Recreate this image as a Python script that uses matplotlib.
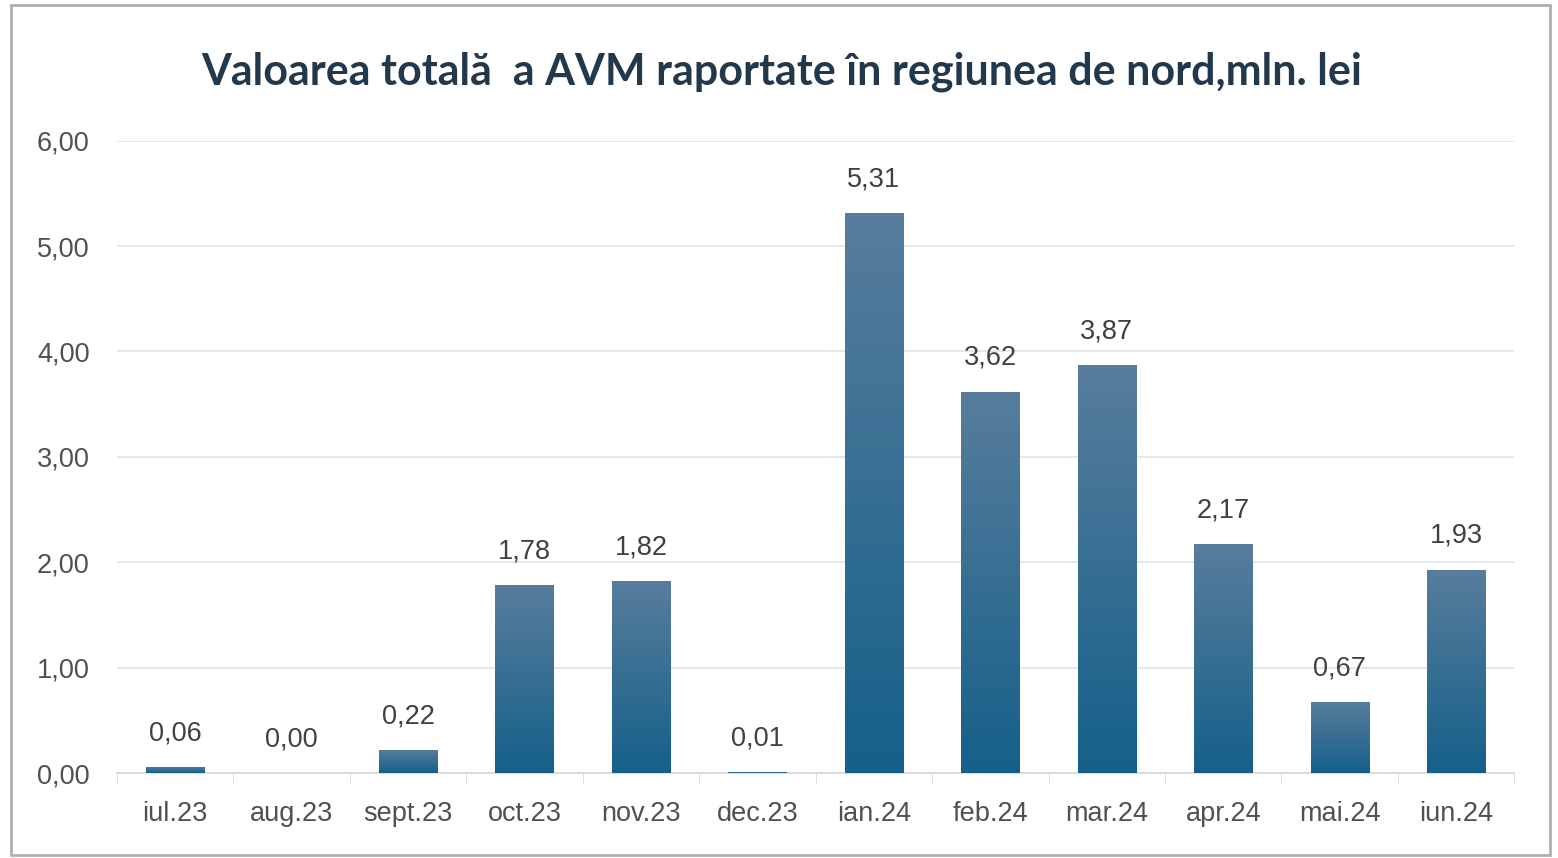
import matplotlib.pyplot as plt
import numpy as np
from matplotlib.patches import Rectangle
from matplotlib.colors import LinearSegmentedColormap

months = ["iul.23", "aug.23", "sept.23", "oct.23", "nov.23", "dec.23",
          "ian.24", "feb.24", "mar.24", "apr.24", "mai.24", "iun.24"]
values = [0.06, 0.00, 0.22, 1.78, 1.82, 0.01, 5.31, 3.62, 3.87, 2.17, 0.67, 1.93]
y_ticks = [0, 1, 2, 3, 4, 5, 6]

plt.rcParams['font.family'] = ['Liberation Sans', 'DejaVu Sans']

fig = plt.figure(figsize=(15.58, 8.58), dpi=100)
ax = fig.add_axes([0.075, 0.099, 0.897, 0.737])

# frame around the whole chart
fig.patches.append(Rectangle((0.007, 0.004), 0.988, 0.99, transform=fig.transFigure,
                             fill=False, edgecolor='#b0b0b0', linewidth=2))

x = np.arange(len(months))
bars = ax.bar(x, values, width=0.5, color='#1a6089', zorder=2)

# vertical gradient in each bar, lighter at top
cmap = LinearSegmentedColormap.from_list('bar', ['#15608a', '#587d9c'])
grad = np.linspace(0, 1, 256).reshape(-1, 1)
for b in bars:
    h = b.get_height()
    if h <= 0:
        continue
    x0 = b.get_x()
    im = ax.imshow(grad, cmap=cmap, origin='lower', aspect='auto',
                   extent=[x0, x0 + b.get_width(), 0, h], zorder=3)
    im.set_clip_path(b)

for xi, v in zip(x, values):
    ax.text(xi, v + 0.32, f"{v:.2f}".replace('.', ','), ha='center', va='center',
            fontsize=19.5, color='#404040')

ax.set_xlim(-0.5, len(months) - 0.5)
ax.set_ylim(0, 6)
ax.set_yticks(y_ticks)
ax.set_yticklabels([f"{t:.2f}".replace('.', ',') for t in y_ticks])
ax.set_xticks(x)
ax.set_xticklabels(months)
ax.set_xticks(np.arange(-0.5, len(months), 1), minor=True)
ax.tick_params(axis='x', which='major', length=0, pad=20, labelsize=19.5, labelcolor='#505050')
ax.tick_params(axis='x', which='minor', length=7, color='#d9d9d9', direction='out')
ax.tick_params(axis='y', length=0, pad=19.5, labelsize=19.5, labelcolor='#505050')
ax.grid(axis='y', color='#e1e6ee', linewidth=1.3, zorder=0)
ax.set_axisbelow(True)
for s in ['top', 'right', 'left']:
    ax.spines[s].set_visible(False)
ax.spines['bottom'].set_color('#d9d9d9')
ax.spines['bottom'].set_linewidth(1.3)

fig.text(0.502, 0.916, "Valoarea totală  a AVM raportate în regiunea de nord,mln. lei",
         ha='center', va='center', fontsize=31, fontweight='bold', color='#22384c',
         family=['Lato', 'DejaVu Sans'])

fig.savefig('out.png', dpi=100)
